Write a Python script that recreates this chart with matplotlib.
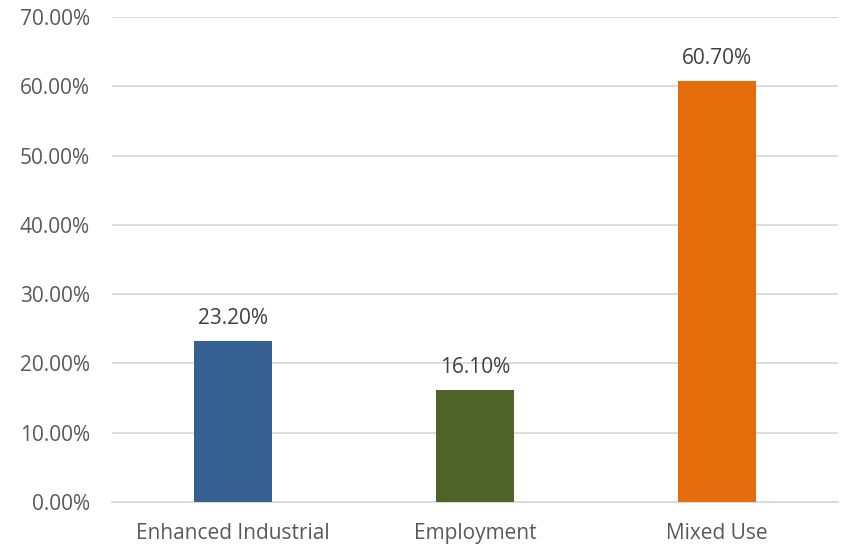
import matplotlib
matplotlib.use("Agg")
import matplotlib.pyplot as plt
from matplotlib.ticker import FuncFormatter

categories = ["Enhanced Industrial", "Employment", "Mixed Use"]
values = [23.20, 16.10, 60.70]
colors = ["#366092", "#4F6228", "#E46C0A"]

plt.rcParams['font.family'] = ['Open Sans', 'DejaVu Sans']

fig = plt.figure(figsize=(8.44, 5.46), dpi=100)
ax = fig.add_axes([112/844, 1-502/546, 726/844, 485/546])

x = range(len(categories))
bars = ax.bar(x, values, width=0.32, color=colors, zorder=3)
for xi, v in zip(x, values):
    ax.text(xi, v + 1.8, f"{v:.2f}%", ha="center", va="bottom", fontsize=15, color="#404040")

ax.set_xlim(-0.5, 2.5)
ax.set_ylim(0, 70)
ax.set_yticks(range(0, 71, 10))
ax.yaxis.set_major_formatter(FuncFormatter(lambda v, p: f"{v:.2f}%"))
ax.set_xticks(list(x))
ax.set_xticklabels(categories)
ax.grid(axis="y", color="#D9D9D9", linewidth=1.3, zorder=0)
for s in ["left", "right", "top"]:
    ax.spines[s].set_visible(False)
ax.spines["bottom"].set_color("#D9D9D9")
ax.spines["bottom"].set_linewidth(1.3)
ax.tick_params(axis="both", length=0, labelsize=15, labelcolor="#595959")
ax.tick_params(axis="y", pad=16)
ax.tick_params(axis="x", pad=15)

fig.savefig("out.png", dpi=100)
